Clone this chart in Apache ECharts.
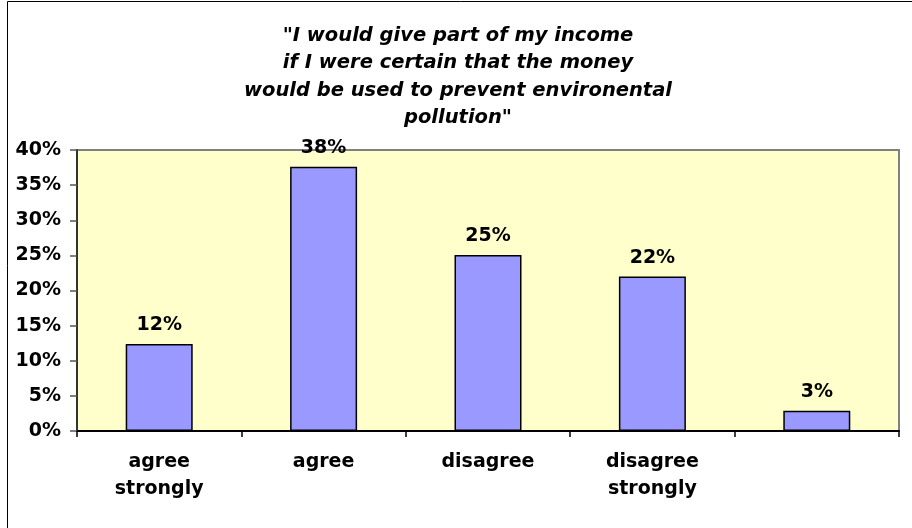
<!DOCTYPE html>
<html>
<head>
<meta charset="utf-8">
<script src="https://cdn.jsdelivr.net/npm/echarts@6/dist/echarts.min.js"></script>
<style>
html,body{margin:0;padding:0;background:#fff;}
#chart{width:912px;height:528px;}
</style>
</head>
<body>
<div id="chart"></div>
<script>
const titleText = '"I would give part of my income\nif I were certain that the money\nwould be used to prevent environental\npollution"';
const categories = ['agree\nstrongly', 'agree', 'disagree', 'disagree\nstrongly', ''];
const values = [12.4, 37.6, 25.05, 22.0, 2.9];
const yTicks = { min: 0, max: 40, interval: 5 };

const chart = echarts.init(document.getElementById('chart'));
const font = 'DejaVu Sans, Verdana, sans-serif';
chart.setOption({
  animation: false,
  backgroundColor: '#ffffff',
  graphic: [{
    type: 'rect',
    shape: { x: 7.5, y: 1.5, width: 1000, height: 1000 },
    style: { fill: 'none', stroke: '#000', lineWidth: 1 },
    silent: true
  }],
  title: {
    text: titleText,
    left: 453,
    textAlign: 'center',
    top: 17,
    textStyle: {
      fontFamily: font, fontSize: 19.5, fontWeight: 'bold', fontStyle: 'italic',
      color: '#000', lineHeight: 27.5
    }
  },
  grid: {
    left: 77, top: 150, right: 13, bottom: 97,
    show: true, backgroundColor: '#FFFFCC', borderColor: '#808080', borderWidth: 2
  },
  xAxis: {
    type: 'category',
    data: categories,
    boundaryGap: true,
    axisLine: { lineStyle: { color: '#000', width: 2 } },
    axisTick: { show: true, length: 6, lineStyle: { color: '#000', width: 1.5 } },
    axisLabel: {
      fontFamily: font, fontSize: 19, fontWeight: 'bold', color: '#000',
      lineHeight: 27, margin: 18, interval: 0
    },
    splitLine: { show: false }
  },
  yAxis: {
    type: 'value',
    min: yTicks.min, max: yTicks.max, interval: yTicks.interval,
    axisLine: { show: true, lineStyle: { color: '#333', width: 2 } },
    axisTick: { show: true, length: 7, lineStyle: { color: '#555', width: 1.5 } },
    axisLabel: {
      formatter: '{value}%', fontFamily: font, fontSize: 19, fontWeight: 'bold',
      color: '#000', margin: 16
    },
    splitLine: { show: false }
  },
  series: [{
    type: 'bar',
    data: values,
    barWidth: 67,
    itemStyle: { color: '#9999FF', borderColor: '#000', borderWidth: 1.5 },
    label: {
      show: true, position: 'top', distance: 9,
      formatter: p => Math.round(p.value) + '%',
      fontFamily: font, fontSize: 19, fontWeight: 'bold', color: '#000'
    }
  }]
});
</script>
</body>
</html>
